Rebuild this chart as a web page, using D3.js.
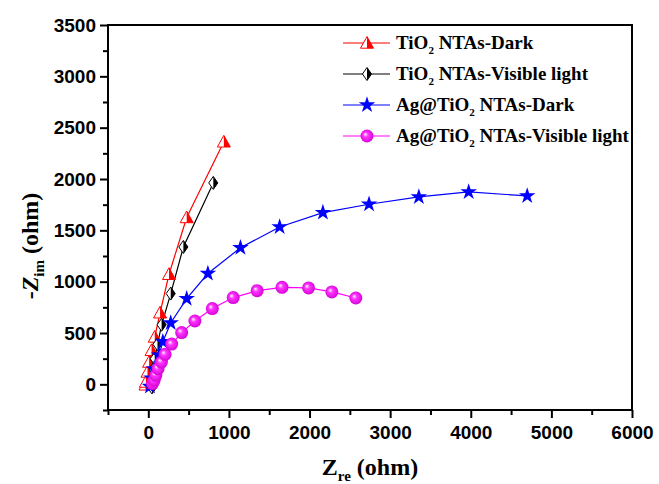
<!DOCTYPE html>
<html>
<head>
<meta charset="utf-8">
<script src="https://cdn.jsdelivr.net/npm/d3@7"></script>
<style>
  body { margin: 0; background: #fff; }
  .tick text { font-family: "Liberation Sans", Arial, sans-serif; font-weight: bold; font-size: 19px; }
  .title { font-family: "Liberation Serif", "Times New Roman", serif; font-weight: bold; }
  .legend-label { font-family: "Liberation Serif", "Times New Roman", serif; font-weight: bold; font-size: 19px; }
</style>
</head>
<body>
<div id="root"></div>
<script>
// Nyquist data: [Zre, -Zim] in ohm
const tio2Dark = [
  [-35, -5], [-30, 22], [-10, 120], [10, 217], [40, 331], [80, 461],
  [146, 697], [257, 1072], [476, 1625], [937, 2362]
];
const tio2Light = [
  [45, -30], [55, 60], [65, 150], [80, 250], [114, 390], [165, 580],
  [278, 884], [435, 1338], [806, 1962]
];
const agDark = [
  [20, -20], [40, 60], [70, 150], [133, 283], [180, 415], [278, 598],
  [476, 835], [739, 1079], [1143, 1330], [1629, 1533], [2166, 1673],
  [2738, 1754], [3356, 1826], [3974, 1874], [4700, 1835]
];
const agLight = [
  [52, 7], [72, 39], [93, 88], [121, 153], [163, 217], [208, 292],
  [290, 392], [414, 504], [578, 617], [794, 738], [1053, 845],
  [1350, 912], [1659, 945], [1988, 939], [2277, 900], [2574, 841]
];

const xTicks = [0, 1000, 2000, 3000, 4000, 5000, 6000];
const yTicks = [0, 500, 1000, 1500, 2000, 2500, 3000, 3500];

const width = 659;
const height = 484;

// plot frame
const frame = { left: 108, right: 632, top: 25, bottom: 410 };

const x = d3.scaleLinear().domain([-500, 6000]).range([frame.left, frame.right]);
const y = d3.scaleLinear().domain([-250, 3500]).range([frame.bottom, frame.top]);

const svg = d3.select('#root')
  .append('svg')
  .attr('width', width)
  .attr('height', height);

// sphere gradient for the magenta markers
const defs = svg.append('defs');
const grad = defs.append('radialGradient')
  .attr('id', 'sphere')
  .attr('cx', '50%').attr('cy', '50%').attr('r', '55%')
  .attr('fx', '35%').attr('fy', '35%');
grad.append('stop').attr('offset', '0%').attr('stop-color', '#ffffff');
grad.append('stop').attr('offset', '35%').attr('stop-color', '#ff33ff');
grad.append('stop').attr('offset', '100%').attr('stop-color', '#d000d0');

// marker drawers, each appends into a <g> centred on the point
const markers = {
  triangle(g, color) {
    const s = 6.5;
    g.append('path')
      .attr('d', `M0,${-s}L${s},${s * 0.8}L${-s},${s * 0.8}Z`)
      .attr('fill', '#fff').attr('stroke', color).attr('stroke-width', 1);
    g.append('path')
      .attr('d', `M0,${-s}L${s},${s * 0.8}L0,${s * 0.8}Z`)
      .attr('fill', color);
  },
  diamond(g, color) {
    const s = 6.5;
    g.append('path')
      .attr('d', `M0,${-s}L${s * 0.7},0L0,${s}L${-s * 0.7},0Z`)
      .attr('fill', '#fff').attr('stroke', color).attr('stroke-width', 1);
    g.append('path')
      .attr('d', `M0,${-s}L${s * 0.7},0L0,${s}Z`)
      .attr('fill', color);
  },
  star(g, color) {
    g.append('path')
      .attr('d', d3.symbol(d3.symbolStar, 85)())
      .attr('fill', color);
  },
  sphere(g) {
    g.append('circle')
      .attr('r', 6.5)
      .attr('fill', 'url(#sphere)');
  }
};

const series = [
  { name: 'TiO', sub: '2', rest: ' NTAs-Dark', data: tio2Dark, color: '#ff0000', marker: 'triangle' },
  { name: 'TiO', sub: '2', rest: ' NTAs-Visible light', data: tio2Light, color: '#000000', marker: 'diamond' },
  { name: 'Ag@TiO', sub: '2', rest: ' NTAs-Dark', data: agDark, color: '#0000ff', marker: 'star' },
  { name: 'Ag@TiO', sub: '2', rest: ' NTAs-Visible light', data: agLight, color: '#ff00ff', marker: 'sphere' }
];

// axes, ticks pointing outward
svg.append('g')
  .attr('transform', `translate(0,${frame.bottom})`)
  .call(d3.axisBottom(x).tickValues(xTicks).tickSize(8).tickPadding(8).tickFormat(d3.format('d')));
svg.append('g')
  .attr('transform', `translate(0,${frame.bottom})`)
  .call(d3.axisBottom(x).tickValues(d3.range(-500, 6000, 1000)).tickSize(5).tickFormat(''));

svg.append('g')
  .attr('transform', `translate(${frame.left},0)`)
  .call(d3.axisLeft(y).tickValues(yTicks).tickSize(8).tickPadding(4).tickFormat(d3.format('d')));
svg.append('g')
  .attr('transform', `translate(${frame.left},0)`)
  .call(d3.axisLeft(y).tickValues(d3.range(-250, 3500, 500)).tickSize(5).tickFormat(''));

svg.selectAll('.tick line').attr('stroke', '#000').attr('stroke-width', 2);
svg.selectAll('.tick text').attr('fill', '#000');
svg.selectAll('.domain').remove();

// frame
svg.append('rect')
  .attr('x', frame.left)
  .attr('y', frame.top)
  .attr('width', frame.right - frame.left)
  .attr('height', frame.bottom - frame.top)
  .attr('fill', 'none')
  .attr('stroke', '#000')
  .attr('stroke-width', 2);

// lines and markers
const line = d3.line().x(d => x(d[0])).y(d => y(d[1]));
const gPlot = svg.append('g');

series.forEach(s => {
  gPlot.append('path')
    .datum(s.data)
    .attr('d', line)
    .attr('fill', 'none')
    .attr('stroke', s.color)
    .attr('stroke-width', 1.2);
});

series.forEach(s => {
  s.data.forEach(d => {
    const g = gPlot.append('g').attr('transform', `translate(${x(d[0])},${y(d[1])})`);
    markers[s.marker](g, s.color);
  });
});

// legend
const legend = svg.append('g').attr('transform', 'translate(343,0)');
const legendY = [43, 74, 105, 136];
series.forEach((s, i) => {
  const g = legend.append('g').attr('transform', `translate(0,${legendY[i]})`);
  g.append('line')
    .attr('x1', 0).attr('x2', 47)
    .attr('stroke', s.color).attr('stroke-width', 1.2);
  markers[s.marker](g.append('g').attr('transform', 'translate(24,0)'), s.color);
  const t = g.append('text')
    .attr('class', 'legend-label')
    .attr('x', 53)
    .attr('y', 6);
  t.append('tspan').text(s.name);
  t.append('tspan').attr('dy', 5).attr('font-size', 11).text(s.sub);
  t.append('tspan').attr('dy', -5).text(s.rest);
});

// axis titles
const xt = svg.append('text')
  .attr('class', 'title')
  .attr('x', 370)
  .attr('y', 475)
  .attr('text-anchor', 'middle')
  .attr('font-size', 24);
xt.append('tspan').text('Z');
xt.append('tspan').attr('dy', 6).attr('font-size', 15).text('re');
xt.append('tspan').attr('dy', -6).text(' (ohm)');

const yt = svg.append('text')
  .attr('class', 'title')
  .attr('transform', 'translate(38,246) rotate(-90)')
  .attr('text-anchor', 'middle')
  .attr('font-size', 24);
yt.append('tspan').text('-');
yt.append('tspan').attr('font-style', 'italic').text('Z');
yt.append('tspan').attr('dy', 6).attr('font-size', 15).text('im');
yt.append('tspan').attr('dy', -6).text(' (ohm)');
</script>
</body>
</html>
